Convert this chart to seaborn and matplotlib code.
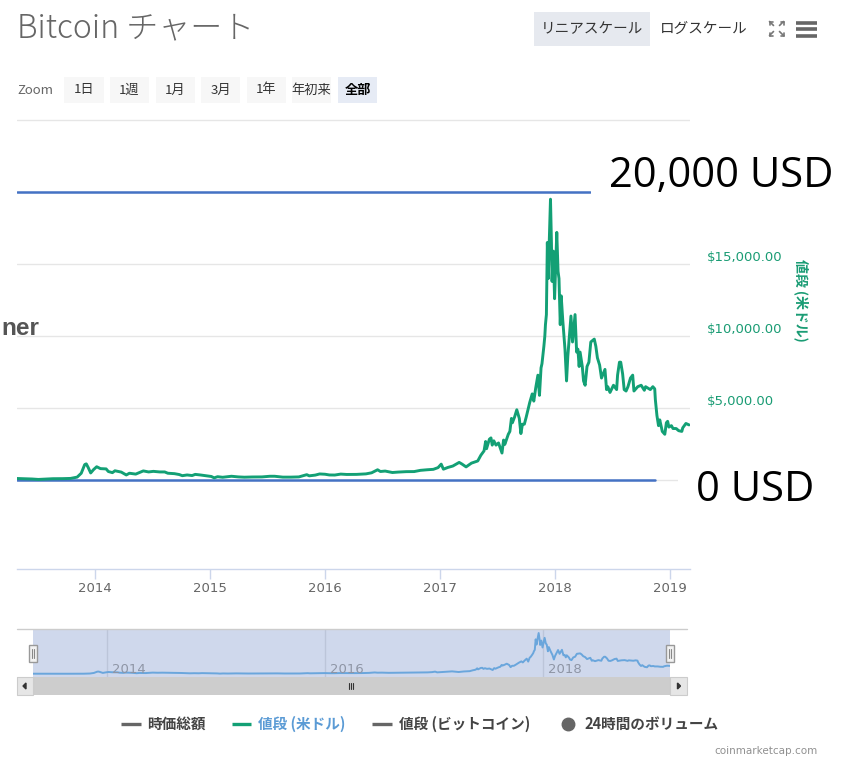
import matplotlib
matplotlib.use("Agg")
import matplotlib.pyplot as plt
import seaborn as sns
import pandas as pd
from matplotlib.lines import Line2D
from matplotlib.patches import Rectangle, Polygon
from matplotlib.transforms import ScaledTranslation

# ---------------- data ----------------
dates = ["2013-04-28","2013-05-20","2013-06-15","2013-07-05","2013-07-25","2013-08-20","2013-09-20","2013-10-15",
         "2013-11-05","2013-11-18","2013-11-29","2013-12-04","2013-12-10","2013-12-18","2013-12-27","2014-01-06",
         "2014-01-18","2014-02-05","2014-02-12","2014-02-25","2014-03-05","2014-03-25","2014-04-10","2014-04-20",
         "2014-05-10","2014-06-03","2014-06-20","2014-07-05","2014-07-25","2014-08-10","2014-08-20","2014-09-10",
         "2014-09-25","2014-10-05","2014-10-20","2014-11-05","2014-11-15","2014-12-01","2014-12-20","2015-01-05",
         "2015-01-14","2015-01-25","2015-02-10","2015-03-10","2015-04-01","2015-04-20","2015-05-15","2015-06-15",
         "2015-07-10","2015-07-25","2015-08-20","2015-09-15","2015-10-10","2015-11-04","2015-11-12","2015-12-01",
         "2015-12-15","2016-01-01","2016-01-15","2016-02-01","2016-02-20","2016-03-10","2016-04-10","2016-05-10",
         "2016-05-28","2016-06-16","2016-06-25","2016-07-10","2016-08-02","2016-08-20","2016-09-15","2016-10-10",
         "2016-10-30","2016-11-20","2016-12-10","2016-12-25","2017-01-04","2017-01-11","2017-01-25","2017-02-10",
         "2017-03-02","2017-03-10","2017-03-24","2017-04-10","2017-04-30","2017-05-10","2017-05-20","2017-05-25",
         "2017-05-28","2017-06-06","2017-06-11","2017-06-15","2017-06-20","2017-06-27","2017-07-05","2017-07-16",
         "2017-07-21","2017-07-25","2017-08-05","2017-08-10","2017-08-15","2017-08-18","2017-08-25","2017-09-01",
         "2017-09-09","2017-09-14","2017-09-19","2017-09-25","2017-10-01","2017-10-12","2017-10-20","2017-10-25",
         "2017-10-31","2017-11-07","2017-11-12","2017-11-17","2017-11-20","2017-11-26","2017-11-29","2017-12-01",
         "2017-12-04","2017-12-07","2017-12-10","2017-12-13","2017-12-17","2017-12-20","2017-12-22","2017-12-26",
         "2017-12-30","2018-01-03","2018-01-06","2018-01-10","2018-01-13","2018-01-17","2018-01-20","2018-01-25",
         "2018-02-01","2018-02-06","2018-02-10","2018-02-15","2018-02-20","2018-02-25","2018-03-05","2018-03-10",
         "2018-03-14","2018-03-18","2018-03-21","2018-03-28","2018-04-01","2018-04-06","2018-04-12","2018-04-18",
         "2018-04-24","2018-05-05","2018-05-10","2018-05-15","2018-05-22","2018-05-28","2018-06-08","2018-06-13",
         "2018-06-17","2018-06-24","2018-07-05","2018-07-15","2018-07-18","2018-07-24","2018-07-28","2018-08-03",
         "2018-08-08","2018-08-14","2018-08-20","2018-08-28","2018-09-04","2018-09-08","2018-09-20","2018-10-01",
         "2018-10-11","2018-10-15","2018-10-30","2018-11-07","2018-11-13","2018-11-15","2018-11-20","2018-11-25",
         "2018-11-29","2018-12-07","2018-12-15","2018-12-20","2018-12-24","2018-12-28","2019-01-05","2019-01-10",
         "2019-01-20","2019-01-28","2019-02-07","2019-02-10","2019-02-20","2019-03-02"]
prices = [135,122,100,70,95,120,125,140,
          230,500,1100,1150,900,520,750,950,
          820,800,620,540,670,580,380,500,
          440,660,590,630,590,590,500,470,
          410,330,380,340,420,380,320,275,
          180,260,220,290,245,225,240,245,
          290,290,230,230,245,400,320,370,
          450,430,380,375,440,415,420,455,
          530,740,620,650,550,580,610,615,
          700,740,770,890,1130,780,900,1000,
          1250,1150,940,1200,1350,1750,2050,2700,
          2200,2860,2950,2450,2750,2450,2600,1900,
          2800,2500,3200,3400,4300,4000,4400,4900,
          4300,3250,3900,3900,4400,5400,6000,5500,
          6400,7300,5900,7800,8100,9300,10000,10800,
          11500,16500,14000,16500,19500,16500,13800,15900,
          12600,15200,17200,14500,14000,10800,12800,11100,
          9100,6900,8600,10000,11400,9600,11500,8900,
          9100,7900,8900,7900,6900,6600,7900,8200,
          9600,9800,9300,8500,8000,7100,7700,6300,
          6500,6100,6600,6300,7300,8200,8200,7400,
          6300,6200,6500,7100,7300,6200,6500,6600,
          6250,6500,6300,6500,6350,5600,4500,3800,
          4200,3400,3200,4000,4100,3700,3800,3600,
          3600,3450,3400,3650,3950,3850]

year_ticks = ["2014", "2015", "2016", "2017", "2018", "2019"]
price_ticks = [0, 5000, 10000, 15000, 20000, 25000]
price_labels = ["", "$5,000.00", "$10,000.00", "$15,000.00", "", ""]
nav_years = ["2014", "2016", "2018"]
zoom_buttons = ["1日", "1週", "1月", "3月", "1年", "年初来", "全部"]
legend_items = ["時価総額", "値段 (米ドル)", "値段 (ビットコイン)", "24時間のボリューム"]
annotation_texts = ["20,000 USD", "0 USD"]
annotation_values = [20000, 0]

# ---------------- setup ----------------
sns.set_style("white")
plt.rcParams["font.family"] = ["DejaVu Sans", "Noto Sans CJK JP"]
JP = ["Noto Sans CJK JP", "DejaVu Sans"]

W, H = 847, 765
fig = plt.figure(figsize=(W / 100, H / 100), dpi=100)
fig.patch.set_facecolor("white")


def fx(x):
    return x / W


def fy(y):
    return 1 - y / H


def box(x0, y0, x1, y1):
    return [fx(x0), fy(y1), (x1 - x0) / W, (y1 - y0) / H]


def rect(x0, y0, x1, y1, **kw):
    r = Rectangle((fx(x0), fy(y1)), (x1 - x0) / W, (y1 - y0) / H,
                  transform=fig.transFigure, **kw)
    fig.add_artist(r)
    return r


def hline(x0, x1, y, **kw):
    fig.add_artist(Line2D([fx(x0), fx(x1)], [fy(y), fy(y)], transform=fig.transFigure, **kw))


def seg(x0, y0, x1, y1, **kw):
    fig.add_artist(Line2D([fx(x0), fx(x1)], [fy(y0), fy(y1)], transform=fig.transFigure, **kw))


df = pd.DataFrame({"date": pd.to_datetime(dates), "price": prices})
GREEN = "#13a075"
LABEL_GREEN = "#1a9c74"

# ---------------- main chart ----------------
ax = fig.add_axes(box(17, 118, 690, 569))
sns.lineplot(data=df, x="date", y="price", ax=ax, color=GREEN, lw=2.1, zorder=3)
ax.set_xlim(pd.Timestamp("2013-04-28"), pd.Timestamp("2019-03-05"))
ax.set_ylim(-6140, 25130)
ax.set_xlabel("")
ax.set_ylabel("")
for s in ["top", "left", "right"]:
    ax.spines[s].set_visible(False)
ax.spines["bottom"].set_color("#ccd6eb")
ax.spines["bottom"].set_linewidth(1)

ax.set_yticks(price_ticks)
ax.set_yticklabels(price_labels)
ax.yaxis.tick_right()
ax.tick_params(axis="y", length=0, pad=12.5, labelsize=9.5, labelcolor=LABEL_GREEN)
for lbl in ax.get_yticklabels():
    lbl.set_transform(lbl.get_transform() + ScaledTranslation(0, 8 / 100, fig.dpi_scale_trans))
ax.grid(axis="y", color="#e6e6e6", lw=1)
ax.grid(axis="x", visible=False)

ax.set_xticks(pd.to_datetime([f"{y}-01-01" for y in year_ticks]))
ax.set_xticklabels(year_ticks)
ax.tick_params(axis="x", bottom=True, length=7.5, width=1, color="#ccd6eb", pad=1.5,
               labelsize=9.5, labelcolor="#666666", direction="out")

# annotation lines
ax.axhline(annotation_values[0], xmin=0, xmax=(590 - 17) / 673, color="#4472c4", lw=1.8, zorder=2)
ax.axhline(annotation_values[1], xmin=0, xmax=(655 - 17) / 673, color="#4472c4", lw=1.8, zorder=2)

# white boxes for annotations
rect(591, 148, 847, 208, facecolor="white", edgecolor="none", zorder=5)
rect(678, 466, 847, 516, facecolor="white", edgecolor="none", zorder=5)
fig.text(fx(609), fy(176), annotation_texts[0], fontsize=30, family=["Open Sans", "DejaVu Sans"],
         color="black", ha="left", va="center", zorder=6)
fig.text(fx(696), fy(490), annotation_texts[1], fontsize=30, family=["Open Sans", "DejaVu Sans"],
         color="black", ha="left", va="center", zorder=6)

# right axis title
fig.text(fx(801), fy(300), "値段 (米ドル)", rotation=270, fontsize=10, weight="bold",
         color=LABEL_GREEN, family=JP, ha="center", va="center")

# partial word at left edge
fig.text(fx(1), fy(335), "ner", ha="left", va="baseline", fontsize=17.5, weight="bold",
         color="#555555", family=["Liberation Sans", "DejaVu Sans"], zorder=6)

# ---------------- header ----------------
fig.text(fx(17), fy(37), "Bitcoin チャート", fontsize=23, color="#666666", family=JP,
         weight="light", ha="left", va="baseline")
rect(534, 12, 650, 46, facecolor="#e6e9ef", edgecolor="none")
fig.text(fx(592), fy(29), "リニアスケール", fontsize=10.5, color="#333333", family=JP,
         ha="center", va="center")
fig.text(fx(703.5), fy(29), "ログスケール", fontsize=10.5, color="#333333", family=JP,
         ha="center", va="center")
# expand icon
icx, icy = 776.5, 28.5
for dx, dy in [(-1, -1), (1, -1), (-1, 1), (1, 1)]:
    seg(icx + dx * 3, icy + dy * 3, icx + dx * 7, icy + dy * 7, color="#777777", lw=1.2)
    seg(icx + dx * 7, icy + dy * 7, icx + dx * 4, icy + dy * 7, color="#777777", lw=1.2)
    seg(icx + dx * 7, icy + dy * 7, icx + dx * 7, icy + dy * 4, color="#777777", lw=1.2)
# hamburger
for yy in [22.5, 29, 35.5]:
    hline(796, 817, yy, color="#666666", lw=2.6, solid_capstyle="butt")

# zoom row
fig.text(fx(17), fy(90), "Zoom", fontsize=9.5, color="#666666", family=JP, ha="left", va="center")
btn_x = [(64, 104), (110, 149), (156, 195), (201, 240), (247, 286), (292, 331), (338, 377)]
for i, (lbl, (x0, x1)) in enumerate(zip(zoom_buttons, btn_x)):
    last = i == len(zoom_buttons) - 1
    rect(x0, 77, x1, 103, facecolor="#e6ebf5" if last else "#f7f7f7", edgecolor="none")
    fig.text(fx((x0 + x1) / 2), fy(90), lbl, fontsize=9.5, family=JP,
             color="#000000" if last else "#333333", weight="bold" if last else "normal",
             ha="center", va="center")

# ---------------- navigator ----------------
hline(17, 687, 629, color="#cccccc", lw=1)
nav = fig.add_axes(box(33, 629, 670, 677))
nav.set_facecolor("#cfd8ec")
sns.lineplot(data=df, x="date", y="price", ax=nav, color="#6aa6dc", lw=1.4, zorder=3)
nav.set_xlim(df["date"].iloc[0], df["date"].iloc[-1])
nav.set_ylim(-1430, 21400)
for s in nav.spines.values():
    s.set_visible(False)
nav_tick_dates = pd.to_datetime([f"{y}-01-01" for y in nav_years])
nav.set_xticks(nav_tick_dates)
nav.set_xticklabels([])
nav.set_yticks([])
nav.tick_params(axis="x", length=0)
nav.grid(axis="x", color="#bcc5d9", lw=1)
nav.set_xlabel("")
nav.set_ylabel("")
for d, lbl in zip(nav_tick_dates, nav_years):
    nav.annotate(lbl, xy=(d, 0), xycoords=("data", "axes fraction"), xytext=(3.5, 1),
                 textcoords="offset points", ha="left", va="bottom", fontsize=9.5, color="#8e95a5")

# handles
for xh in [33, 670]:
    rect(xh - 4, 645, xh + 4, 662, facecolor="#f2f2f2", edgecolor="#999999", lw=1, zorder=6)
    seg(xh - 1.2, 649, xh - 1.2, 658, color="#888888", lw=0.8, zorder=7)
    seg(xh + 1.2, 649, xh + 1.2, 658, color="#888888", lw=0.8, zorder=7)

# scrollbar
rect(17, 677, 687, 695, facecolor="#cdcdcd", edgecolor="none")
rect(17, 677, 33, 695, facecolor="#e6e6e6", edgecolor="#cccccc", lw=0.8)
rect(670, 677, 687, 695, facecolor="#e6e6e6", edgecolor="#cccccc", lw=0.8)
fig.add_artist(Polygon([[fx(23), fy(686)], [fx(26), fy(683)], [fx(26), fy(689)]],
                       closed=True, transform=fig.transFigure, color="#333333"))
fig.add_artist(Polygon([[fx(680.5), fy(686)], [fx(677.5), fy(683)], [fx(677.5), fy(689)]],
                       closed=True, transform=fig.transFigure, color="#333333"))
for gx in [349, 351, 353]:
    seg(gx, 683, gx, 689, color="#333333", lw=0.8)

# ---------------- legend ----------------
LY = 724
hline(121, 141, LY, color="#666666", lw=2.4, solid_capstyle="butt")
fig.text(fx(147), fy(LY), legend_items[0], fontsize=10.5, weight="bold", color="#444444",
         family=JP, ha="left", va="center")
hline(232, 251, LY, color=GREEN, lw=2.4, solid_capstyle="butt")
fig.text(fx(258), fy(LY), legend_items[1], fontsize=10.5, weight="bold", color="#5b9bd5",
         family=JP, ha="left", va="center")
hline(372, 392, LY, color="#666666", lw=2.4, solid_capstyle="butt")
fig.text(fx(399), fy(LY), legend_items[2], fontsize=10.5, weight="bold", color="#444444",
         family=JP, ha="left", va="center")
fig.add_artist(Line2D([fx(568)], [fy(LY)], marker="o", markersize=9, color="#666666",
                      transform=fig.transFigure))
fig.text(fx(584), fy(LY), legend_items[3], fontsize=10.5, weight="bold", color="#444444",
         family=JP, ha="left", va="center")

fig.text(fx(818), fy(751), "coinmarketcap.com", ha="right", va="center", fontsize=7.5,
         color="#909090")

fig.savefig("out.png", dpi=100, facecolor="white")
